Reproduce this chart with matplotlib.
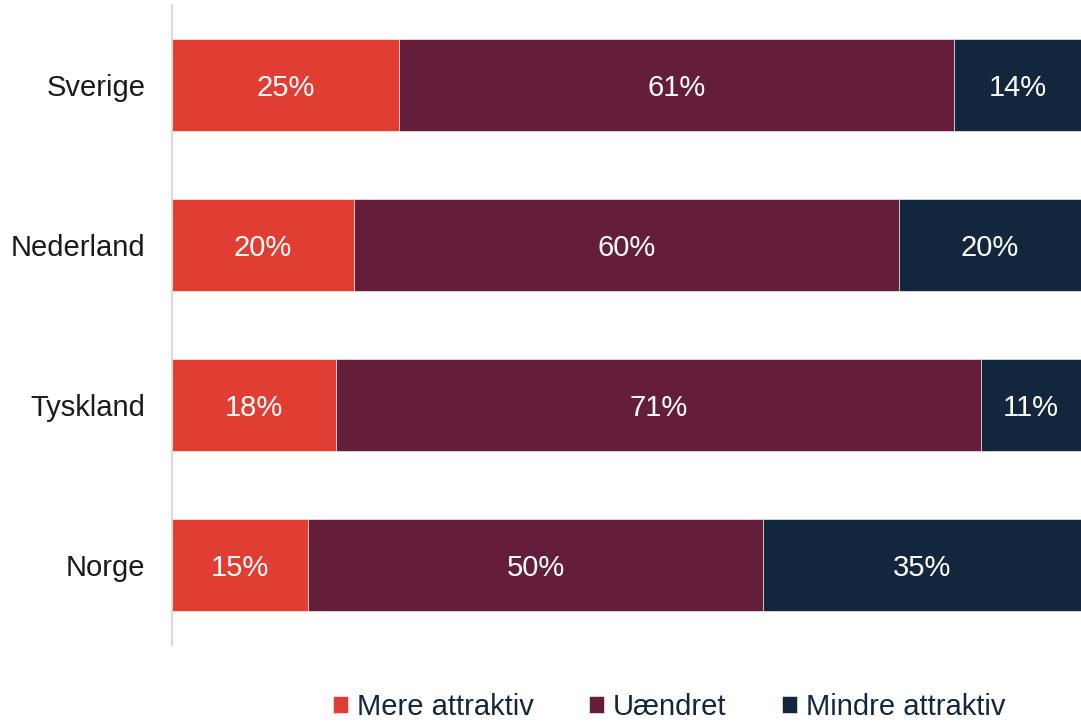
import matplotlib
matplotlib.use("Agg")
import matplotlib.pyplot as plt
import numpy as np

plt.rcParams['font.family'] = ['Liberation Sans', 'DejaVu Sans']

categories = ["Norge", "Tyskland", "Nederland", "Sverige"]
series_names = ["Mere attraktiv", "Uændret", "Mindre attraktiv"]
mere = [15, 18, 20, 25]
uaendret = [50, 71, 60, 61]
mindre = [35, 11, 20, 14]
colors = ["#E03E33", "#641E3B", "#12273D"]

fig = plt.figure(figsize=(10.81, 7.24), dpi=100)
ax = fig.add_axes([172/1081, (724-645)/724, 1 - 172/1081, 640/724])

y = np.arange(len(categories))
left = np.zeros(len(categories))
for name, vals, c in zip(series_names, [mere, uaendret, mindre], colors):
    vals = np.array(vals, dtype=float)
    ax.barh(y, vals, left=left, height=0.57, color=c, label=name,
            edgecolor='white', linewidth=0.4)
    for yi, l, v in zip(y, left, vals):
        ax.text(l + v/2, yi, f"{int(v)}%", ha='center', va='center_baseline',
                color='white', fontsize=21)
    left += vals

ax.set_xlim(0, 100)
ax.set_ylim(-0.5, 3.5)
ax.set_yticks(y)
ax.set_yticklabels(categories, fontsize=21, color='#1a1a1a')
ax.tick_params(axis='y', length=0, pad=19)
ax.set_xticks([])
for s in ['top', 'right', 'bottom']:
    ax.spines[s].set_visible(False)
ax.spines['left'].set_color('#d9d9d9')
ax.spines['left'].set_linewidth(1.5)

handles, labels = ax.get_legend_handles_labels()
leg = fig.legend(handles, labels, loc='center', bbox_to_anchor=(0.619, 0.024),
                 ncol=3, frameon=False, fontsize=21, handlelength=0.52,
                 handleheight=0.52, handletextpad=0.3, columnspacing=1.9)
for t in leg.get_texts():
    t.set_color('#12273D')

fig.savefig("out.png", dpi=100)
